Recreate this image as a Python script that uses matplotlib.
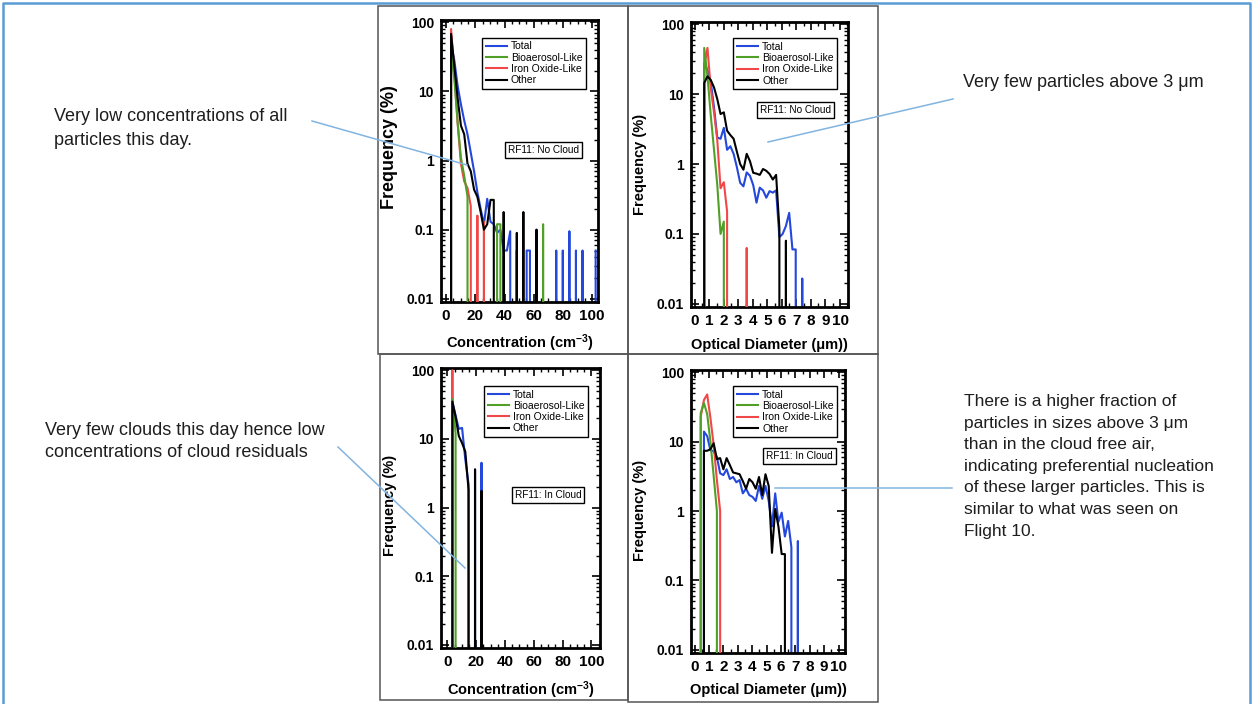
import matplotlib.pyplot as plt
from matplotlib.patches import Rectangle
from matplotlib.ticker import MultipleLocator, LogLocator, NullFormatter

plt.rcParams['font.family'] = ['Liberation Sans', 'DejaVu Sans']
plt.rcParams['mathtext.fontset'] = 'custom'
plt.rcParams['mathtext.rm'] = 'Liberation Sans:bold'
plt.rcParams['mathtext.it'] = 'Liberation Sans:bold'
plt.rcParams['mathtext.bf'] = 'Liberation Sans:bold'

W, H = 1254, 704

Names = ['Total', 'Bioaerosol-Like', 'Iron Oxide-Like', 'Other']
Colors = ['#2447dc', '#50a028', '#f04848', 'black']
Zorders = [2, 4, 3, 5]  # green sits over red, black over everything

# concentration bins (cm-3)
conc_bins = [1.15, 3.4, 5.65, 7.9, 10.15, 12.4, 14.65, 16.9, 19.15, 21.4, 23.65, 25.9, 28.15, 30.4, 32.65,
             34.9, 37.15, 39.4, 41.65, 43.9, 46.15, 48.4, 50.65, 52.9, 55.15, 57.4, 59.65, 61.9, 64.15, 66.4,
             68.65, 70.9, 73.15, 75.4, 77.65, 79.9, 82.15, 84.4, 86.65, 88.9, 91.15, 93.4, 95.65, 97.9, 100.15, 102.4]

# RF11 no cloud, frequency (%) per concentration bin
conc_total_nc = [0, 50, 28, 12, 6.5, 3.8, 2.4, 1.3, 0.7, 0.35,
                 0.2, 0.12, 0.28, 0.13, 0.12, 0.09, 0.1, 0.05, 0.05, 0.095,
                 0, 0.05, 0, 0, 0.05, 0.05, 0, 0.1, 0, 0,
                 0, 0, 0, 0.05, 0, 0.05, 0, 0.095, 0, 0.05,
                 0, 0.05, 0, 0, 0, 0.05]
conc_bio_nc = [0, 40, 15, 3.5, 1.1, 0.6, 0.3, 0, 0, 0,
               0, 0, 0, 0, 0, 0.12, 0.12, 0, 0, 0,
               0, 0, 0, 0, 0, 0, 0, 0, 0, 0.12,
               0, 0, 0, 0, 0, 0, 0, 0, 0, 0,
               0, 0, 0, 0, 0, 0]
conc_iron_nc = [0, 80, 18, 3.5, 0.9, 0.5, 0.4, 0.22, 0, 0.16,
                0, 0.13, 0, 0, 0, 0, 0, 0, 0, 0,
                0, 0, 0, 0, 0, 0, 0, 0, 0, 0,
                0, 0, 0, 0, 0, 0, 0, 0, 0, 0,
                0, 0, 0, 0, 0, 0]
conc_other_nc = [0, 68, 23, 8, 3.2, 2.4, 0.9, 0.7, 0.38, 0.3,
                 0.18, 0.1, 0.12, 0.27, 0.27, 0, 0, 0.18, 0, 0,
                 0, 0.09, 0, 0.18, 0, 0, 0, 0.1, 0, 0,
                 0, 0, 0, 0, 0, 0, 0, 0, 0, 0,
                 0, 0, 0, 0, 0, 0]

# RF11 in cloud
conc_total_ic = [0, 35, 22, 14, 14.5, 5, 2.2, 0, 3.6, 0, 4.5] + [0] * 35
conc_bio_ic = [0, 38, 12] + [0] * 43
conc_iron_ic = [0, 100] + [0] * 44
conc_other_ic = [0, 35, 21, 11, 8.7, 6.5, 1.8, 0, 3.6, 0, 1.75] + [0] * 35

# optical diameter bins (um)
diam_bins = [0.2, 0.425, 0.65, 0.875, 1.1, 1.325, 1.55, 1.775, 2.0, 2.225, 2.45, 2.675, 2.9, 3.125, 3.35, 3.575,
             3.8, 4.025, 4.25, 4.475, 4.7, 4.925, 5.15, 5.375, 5.6, 5.825, 6.05, 6.275, 6.5, 6.725, 6.95, 7.175,
             7.4, 7.625]

diam_total_nc = [0, 0, 28, 22, 15, 6.5, 2.4, 2.3, 3.3, 1.6,
                 1.8, 1.4, 0.9, 0.54, 0.48, 0.76, 0.68, 0.5, 0.28, 0.46,
                 0.42, 0.33, 0.41, 0.39, 0.42, 0.09, 0.1, 0.13, 0.2, 0.06,
                 0.06, 0, 0.023, 0]
diam_bio_nc = [0, 0, 46, 18, 5, 1.6, 0.5, 0.1, 0.15, 0,
               0, 0, 0, 0, 0, 0, 0, 0, 0, 0,
               0, 0, 0, 0, 0, 0, 0, 0, 0, 0,
               0, 0, 0, 0]
diam_iron_nc = [0, 0, 25, 46, 12, 5.5, 2.2, 0.45, 0.55, 0.21,
                0, 0, 0, 0, 0, 0.063, 0, 0, 0, 0,
                0, 0, 0, 0, 0, 0, 0, 0, 0, 0,
                0, 0, 0, 0]
diam_other_nc = [0, 0, 14.5, 18, 16, 12.5, 8.5, 5.2, 5.5, 3.0,
                 2.6, 2.3, 1.5, 1.0, 0.83, 1.4, 1.1, 0.75, 0.73, 0.7,
                 0.85, 0.8, 0.72, 0.6, 0.7, 0.12, 0, 0.08, 0, 0,
                 0, 0, 0, 0]

diam_total_ic = [0, 0, 14, 12, 7.5, 7.3, 6, 3.5, 3.3, 4,
                 2.9, 3.1, 2.6, 2.8, 1.8, 2.1, 1.7, 1.6, 1.4, 2.3,
                 1.5, 2.3, 1.4, 0.6, 1.8, 0.7, 0.95, 0.43, 0.72, 0.3,
                 0, 0.37, 0, 0]
diam_bio_ic = [0, 26, 36, 25, 10, 3.2, 1.0, 0, 0, 0,
               0, 0, 0, 0, 0, 0, 0, 0, 0, 0,
               0, 0, 0, 0, 0, 0, 0, 0, 0, 0,
               0, 0, 0, 0]
diam_iron_ic = [0, 23, 40, 48, 22, 9, 2.8, 1.0, 0, 0,
                0, 0, 0, 0, 0, 0, 0, 0, 0, 0,
                0, 0, 0, 0, 0, 0, 0, 0, 0, 0,
                0, 0, 0, 0]
diam_other_ic = [0, 0, 7.4, 7.4, 7.8, 9.5, 5.6, 5.8, 4.0, 5.8,
                 4.6, 3.6, 3.5, 3.4, 2.7, 2.1, 2.9, 2.6, 2.1, 3.1,
                 1.7, 3.4, 2.3, 0.25, 1.07, 0.6, 0.24, 0.24, 0, 0,
                 0, 0, 0, 0]


def px_rect(x0, y0, x1, y1):
    return [x0 / W, (H - y1) / H, (x1 - x0) / W, (y1 - y0) / H]


def draw_panel(fig, rect, x, Series, kind, xlim, tag, tagPos, legPos, ylabPos, xlabY, ylabSize):
    ax = fig.add_axes(px_rect(*rect))
    for vals, name, c, z in zip(Series, Names, Colors, Zorders):
        ax.plot(x, vals, color=c, lw=1.5, label=name, zorder=z)
    ax.set_yscale('log', nonpositive='clip')
    ax.set_ylim(0.009, 108)
    ax.set_xlim(*xlim)

    ax.set_yticks([0.01, 0.1, 1, 10, 100], ['0.01', '0.1', '1', '10', '100'], fontsize=10, fontweight='bold')
    ax.yaxis.set_minor_locator(LogLocator(base=10, subs=range(2, 10)))
    ax.yaxis.set_minor_formatter(NullFormatter())
    if kind == 'conc':
        ticks = [0, 20, 40, 60, 80, 100]
        ax.xaxis.set_minor_locator(MultipleLocator(5))
        xlab = 'Concentration (cm$^{-3}$)'
    else:
        ticks = list(range(11))
        ax.xaxis.set_minor_locator(MultipleLocator(0.5))
        xlab = 'Optical Diameter (\u03bcm))'
    ax.set_xticks(ticks, [str(t) for t in ticks], fontsize=11, fontweight='bold')

    ax.tick_params(which='both', direction='in', top=True, right=True)
    ax.tick_params(which='major', length=5.5, width=1.2, pad=5)
    ax.tick_params(which='minor', length=3, width=1)
    for s in ax.spines.values():
        s.set_linewidth(2)

    ax.set_ylabel('Frequency (%)', fontsize=ylabSize, fontweight='bold', va='center')
    ax.yaxis.set_label_coords(*ylabPos)
    ax.set_xlabel(xlab, fontsize=10.5, fontweight='bold', va='center')
    ax.xaxis.set_label_coords(0.5, xlabY)

    leg = ax.legend(loc='upper right', bbox_to_anchor=legPos, borderaxespad=0, fontsize=7.5,
                    fancybox=False, edgecolor='black', framealpha=1, handlelength=2.0,
                    handletextpad=0.4, labelspacing=0.12, borderpad=0.35)
    leg.get_frame().set_linewidth(1)
    leg.set_zorder(10)

    ax.text(tagPos[0], tagPos[1], tag, transform=ax.transAxes, ha='center', va='center', fontsize=7.2,
            zorder=10, bbox=dict(boxstyle='square,pad=0.3', fc='white', ec='black', lw=1))
    return ax


fig = plt.figure(figsize=(W / 100, H / 100), dpi=100)

draw_panel(fig, (441, 20, 598, 302), conc_bins,
           [conc_total_nc, conc_bio_nc, conc_iron_nc, conc_other_nc], 'conc', (-3.5, 104),
           'RF11: No Cloud', (0.65, 0.54), (0.925, 0.937), (-0.327, 0.55), -0.145, 13)
draw_panel(fig, (691, 22, 848, 307), diam_bins,
           [diam_total_nc, diam_bio_nc, diam_iron_nc, diam_other_nc], 'diam', (-0.26, 10.55),
           'RF11: No Cloud', (0.666, 0.691), (0.932, 0.943), (-0.327, 0.5), -0.133, 10.5)
draw_panel(fig, (441, 368, 600, 648), conc_bins,
           [conc_total_ic, conc_bio_ic, conc_iron_ic, conc_other_ic], 'conc', (-4.5, 106),
           'RF11: In Cloud', (0.673, 0.545), (0.925, 0.936), (-0.321, 0.51), -0.15, 10.5)
draw_panel(fig, (691, 370, 845, 653), diam_bins,
           [diam_total_ic, diam_bio_ic, diam_iron_ic, diam_other_ic], 'diam', (-0.25, 10.45),
           'RF11: In Cloud', (0.705, 0.696), (0.95, 0.943), (-0.331, 0.505), -0.131, 10.5)

# overlay in pixel units for frames, notes and pointer lines
ov = fig.add_axes([0, 0, 1, 1], zorder=20)
ov.set_xlim(0, W)
ov.set_ylim(H, 0)
ov.axis('off')
ov.patch.set_alpha(0)

ov.plot([3, 3, 1250, 1250], [H, 3, 3, H], color='#5b9bd5', lw=1.8, clip_on=False)
for (x0, y0, x1, y1) in [(378, 6, 628, 354), (628, 6, 878, 354), (380, 354, 628, 700), (628, 354, 878, 702)]:
    ov.add_patch(Rectangle((x0, y0), x1 - x0, y1 - y0, fill=False, ec='#555555', lw=1.1))

note_color = '#1e1e1e'
line_color = '#82b4e0'
ov.text(54, 108, 'Very low concentrations of all\nparticles this day.', fontsize=13, va='top',
        linespacing=1.55, color=note_color)
ov.text(963, 74, 'Very few particles above 3 \u03bcm', fontsize=13, va='top', color=note_color)
ov.text(45, 422, 'Very few clouds this day hence low\nconcentrations of cloud residuals', fontsize=13,
        va='top', linespacing=1.38, color=note_color)
ov.text(964, 394, 'There is a higher fraction of\nparticles in sizes above 3 \u03bcm\nthan in the cloud free air,\n'
        'indicating preferential nucleation\nof these larger particles. This is\nsimilar to what was seen on\n'
        'Flight 10.', fontsize=12.5, va='top', linespacing=1.55, color=note_color)

ov.plot([312, 467], [121, 165], color=line_color, lw=1.1)
ov.plot([953, 768], [99, 142], color=line_color, lw=1.1)
ov.plot([338, 465], [447, 568], color=line_color, lw=1.1)
ov.plot([952, 775], [488, 488], color=line_color, lw=1.1)

fig.savefig('out.png', dpi=100)
